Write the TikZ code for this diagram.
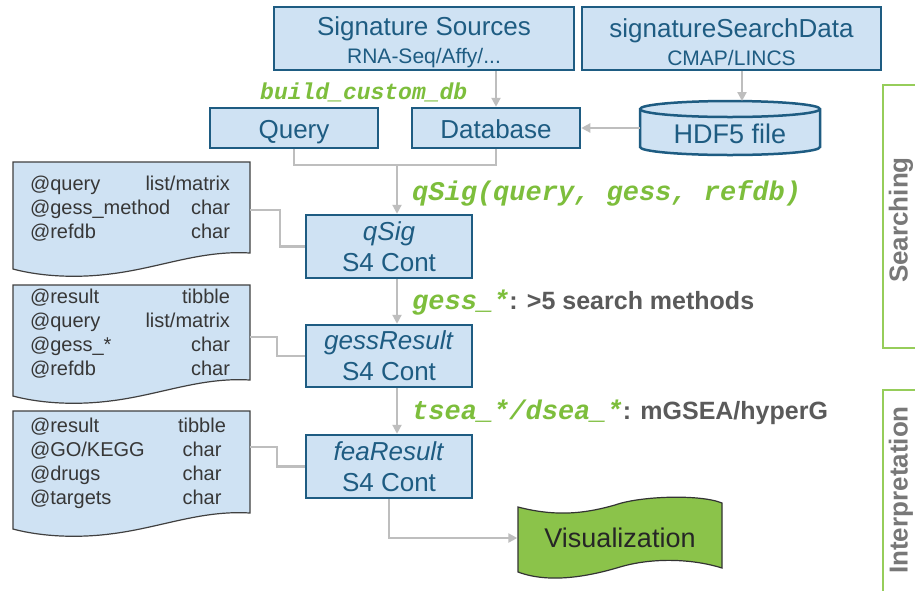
\documentclass[tikz,border=0pt]{standalone}
\usepackage{fontspec}
\setmainfont{Liberation Sans}
\setmonofont{Liberation Mono}
\usetikzlibrary{arrows.meta}
\definecolor{boxfill}{RGB}{207,226,243}
\definecolor{boxline}{RGB}{30,92,130}
\definecolor{conngray}{RGB}{190,190,190}
\definecolor{lgreen}{RGB}{125,190,60}
\definecolor{grtext}{RGB}{90,90,90}
\definecolor{vizgreen}{RGB}{139,195,74}
\definecolor{doctext}{RGB}{55,55,55}
\definecolor{sidetext}{RGB}{120,120,120}
\definecolor{sidegreen}{RGB}{150,205,90}
\newcommand{\fsz}[2]{\fontsize{#1pt}{#2pt}\selectfont}
\tikzset{
  mainbox/.style={draw=boxline, line width=2.5pt, fill=boxfill, text=boxline, inner sep=0pt, align=center, font=\fsz{26}{31}},
  connline/.style={draw=conngray, line width=2.2pt},
  arr/.style={connline, -{Triangle[length=9pt,width=9pt]}},
  greenlbl/.style={anchor=west, text=lgreen, font=\ttfamily\bfseries\itshape\fsz{27}{30}, inner sep=0pt},
  docshape/.style={draw=black!75, line width=1.2pt, fill=boxfill},
  doctxt/.style={text=doctext, font=\fsz{20}{24}, align=left, inner sep=0pt},
  sidebr/.style={draw=sidegreen, line width=2pt},
  sidelbl/.style={rotate=90, text=sidetext, font=\bfseries\fsz{26}{28}, inner sep=0pt},
}
\newcommand{\docpath}[2]{%
  \path[docshape] (13,#1) -- (250,#1) -- (250,#2)
    .. controls (200,{#2-3}) and (160,{#2+15}) .. (110,{#2+21})
    .. controls (70,{#2+26}) and (35,{#2+22}) .. (13,{#2+16}) -- cycle;}
\begin{document}
\begin{tikzpicture}[x=1pt,y=-1pt]
\useasboundingbox (0,0) rectangle (915,590);
\fill[white] (0,0) rectangle (915,590);

% top boxes
\node[mainbox, minimum width=300, minimum height=63] (sigsrc) at (424,38.5)
  {\rule{0pt}{27pt}Signature Sources\\[-3pt]{\fsz{21}{26}RNA-Seq/Affy/...}};
\node[mainbox, minimum width=299, minimum height=63] (sigdata) at (731.5,38.5)
  {\rule{0pt}{27pt}signatureSearchData\\[-3pt]{\fsz{21}{26}CMAP/LINCS}};
\node[mainbox, minimum width=168, minimum height=40, text height=22pt, text depth=2pt] (query) at (294,128) {Query};
\node[mainbox, minimum width=168, minimum height=40, text height=22pt, text depth=2pt] (db) at (496,128) {Database};

% HDF5 cylinder
\path[draw=boxline, line width=2.5pt, fill=boxfill] (640,109) -- (640,147)
  arc[start angle=180, end angle=360, x radius=90pt, y radius=8pt] -- (820,109)
  arc[start angle=0, end angle=180, x radius=90pt, y radius=8pt] -- cycle;
\draw[boxline, line width=2.5pt] (640,109) arc[start angle=180, end angle=360, x radius=90pt, y radius=8pt];
\node[text=boxline, font=\fsz{27}{30}, inner sep=0pt] (hdf) at (730,134) {HDF5 file};
\coordinate (hdfT) at (742,101);
\coordinate (hdfL) at (640,128);

% S4 boxes
\node[mainbox, minimum width=166, minimum height=63] (qsig) at (389,246.5) {\textit{qSig}\\S4 Cont};
\node[mainbox, minimum width=166, minimum height=62] (gess) at (389,356) {\textit{gessResult}\\S4 Cont};
\node[mainbox, minimum width=166, minimum height=63] (fea) at (389,466.5) {\textit{feaResult}\\S4 Cont};

% Visualization
\path[draw=black!80, line width=1.2pt, fill=vizgreen] (518,507)
  .. controls (560,518) and (590,512) .. (615,505)
  .. controls (640,496) and (700,494) .. (722,503) -- (722,568)
  .. controls (690,558) and (650,558) .. (620,567)
  .. controls (590,576) and (550,584) .. (518,572) -- cycle;
\node[minimum width=205, minimum height=60, inner sep=0pt, text=black!85, font=\fsz{27}{30}] (viz) at (620,538) {Visualization};

% documents
\docpath{162}{253}
\docpath{285}{380}
\docpath{411}{513}
\node[doctxt] (doc1) at (130,209) {%
  \hbox to 200pt{@query\hfill list/matrix}\\
  \hbox to 200pt{@gess\_method\hfill char}\\
  \hbox to 200pt{@refdb\hfill char}};
\node[doctxt] (doc2) at (130,334) {%
  \hbox to 200pt{@result\hfill tibble}\\
  \hbox to 200pt{@query\hfill list/matrix}\\
  \hbox to 200pt{@gess\_*\hfill char}\\
  \hbox to 200pt{@refdb\hfill char}};
\node[doctxt] (doc3) at (130,463) {%
  \hbox to 200pt{@result\hfill\makebox[56pt]{tibble}}\\
  \hbox to 200pt{@GO/KEGG\hfill\makebox[56pt]{char}}\\
  \hbox to 200pt{@drugs\hfill\makebox[56pt]{char}}\\
  \hbox to 200pt{@targets\hfill\makebox[56pt]{char}}};
\coordinate (d1) at (250,210);
\coordinate (d2) at (250,337);
\coordinate (d3) at (250,447);

% labels
\node[greenlbl, font=\ttfamily\bfseries\itshape\fsz{23}{26}] (lblbuild) at (260,92) {build\_custom\_db};
\node[greenlbl] (lblqsig) at (412,193) {qSig(query, gess, refdb)};
\node[greenlbl] (lblgess) at (412,303) {gess\_*{\rmfamily\upshape\bfseries\color{grtext}\fsz{25}{30}: >5 search methods}};
\node[greenlbl] (lbltsea) at (412,412) {tsea\_*/dsea\_*{\rmfamily\upshape\bfseries\color{grtext}\fsz{25}{30}: mGSEA/hyperG}};

% connectors
\coordinate (m) at (397,165);
\draw[arr] (db.north |- sigsrc.south) -- (db.north);
\draw[arr] (hdfT |- sigdata.south) -- (hdfT);
\draw[arr] (hdfL) -- (db.east);
\draw[connline] (query.south) |- (db.south |- m) -- (db.south);
\draw[arr] (m) -- (m |- qsig.north);
\draw[arr] (m |- qsig.south) -- (m |- gess.north);
\draw[arr] (m |- gess.south) -- (m |- fea.north);
\draw[arr] (fea.south) |- (viz.west);
\draw[connline] (d1) -- ++(30,0) |- (qsig.west);
\draw[connline] (d2) -- ++(27,0) |- (gess.west);
\draw[connline] (d3) -- ++(27,0) |- (fea.west);

% side brackets
\draw[sidebr] (916,85) -- (883,85) -- (883,348) -- (916,348);
\draw[sidebr] (916,390) -- (883,390) -- (883,592);
\node[sidelbl] (searching) at (901,220) {Searching};
\node[sidelbl] (interp) at (901,490) {Interpretation};
\end{tikzpicture}
\end{document}
